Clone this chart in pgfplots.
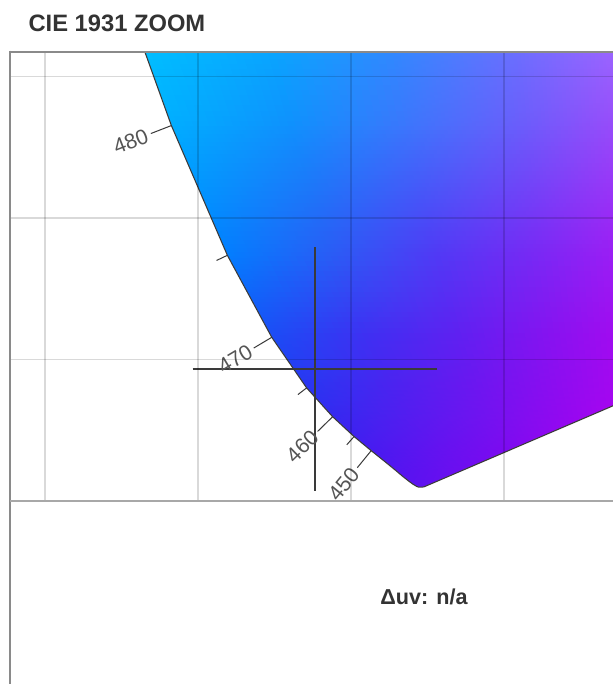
\documentclass[border=0pt]{standalone}
\usepackage{pgfplots}
\pgfplotsset{compat=1.18}
\usepgfplotslibrary{patchplots}
\usepackage{fontspec}
\setmainfont{Liberation Sans}

\definecolor{titlegray}{HTML}{333333}
\definecolor{labelgray}{HTML}{555555}
\definecolor{linegray}{HTML}{3A3A3A}
\definecolor{framegray}{HTML}{8A8A8A}
\definecolor{sepgray}{HTML}{A8A8A8}

\begin{document}
\begin{tikzpicture}
\useasboundingbox (0,0) rectangle (459pt,513pt);

\begin{axis}[
    at={(7.125pt,137.475pt)}, anchor=south west,
    scale only axis, width=457.875pt, height=336.75pt,
    xmin=0.0384, xmax=0.23791, ymin=0, ymax=0.15883,
    xtick={0.05,0.10,0.15,0.20}, ytick={0.05,0.10,0.15},
    xticklabels={}, yticklabels={}, major tick length=0pt,
    grid=major, grid style={black, opacity=0.15, line width=0.8pt},
    axis line style={draw=none},
    axis on top, clip mode=individual,
  ]

  % colour field, vertices on rows of constant y, left column on the locus
  \addplot[patch, patch type=bilinear, shader=interp,
    mesh/color input=explicit, point meta=explicit symbolic,
    table/row sep=\\,
    patch table={
      0 1 6 5\\ 1 2 7 6\\ 2 3 8 7\\ 3 4 9 8\\
      5 6 11 10\\ 6 7 12 11\\ 7 8 13 12\\ 8 9 14 13\\
      10 11 16 15\\ 11 12 17 16\\ 12 13 18 17\\ 13 14 19 18\\
      15 16 21 20\\ 16 17 22 21\\ 17 18 23 22\\ 18 19 24 23\\
      20 21 26 25\\ 21 22 27 26\\ 22 23 28 27\\ 23 24 29 28\\
      25 26 31 30\\ 26 27 32 31\\ 27 28 33 32\\ 28 29 34 33\\
      30 31 36 35\\ 31 32 37 36\\ 32 33 38 37\\ 33 34 39 38\\
      35 36 41 40\\ 36 37 42 41\\ 37 38 43 42\\ 38 39 44 43\\
    }] table[meta=c] {
    x y c\\
    0.157 0.003 rgb=0.306,0.086,0.941\\
    0.18125 0.003 rgb=0.408,0.055,0.941\\
    0.2025 0.003 rgb=0.502,0.031,0.941\\
    0.22375 0.003 rgb=0.612,0.016,0.941\\
    0.245 0.003 rgb=0.714,0,0.941\\
    0.1614 0.0109 rgb=0.314,0.086,0.941\\
    0.18455 0.0109 rgb=0.424,0.055,0.941\\
    0.2047 0.0109 rgb=0.510,0.031,0.941\\
    0.22485 0.0109 rgb=0.620,0.016,0.941\\
    0.245 0.0109 rgb=0.714,0,0.941\\
    0.1536 0.0177 rgb=0.267,0.110,0.941\\
    0.1787 0.0177 rgb=0.392,0.071,0.941\\
    0.2008 0.0177 rgb=0.490,0.039,0.941\\
    0.2229 0.0177 rgb=0.608,0.020,0.941\\
    0.245 0.0177 rgb=0.706,0,0.941\\
    0.1410 0.0297 rgb=0.196,0.165,0.941\\
    0.16925 0.0297 rgb=0.333,0.110,0.941\\
    0.1945 0.0297 rgb=0.451,0.071,0.941\\
    0.21975 0.0297 rgb=0.580,0.031,0.941\\
    0.245 0.0297 rgb=0.698,0.012,0.941\\
    0.1325 0.0399 rgb=0.149,0.216,0.949\\
    0.1629 0.0399 rgb=0.294,0.137,0.941\\
    0.1902 0.0399 rgb=0.424,0.086,0.941\\
    0.2176 0.0399 rgb=0.557,0.047,0.941\\
    0.245 0.0399 rgb=0.686,0.020,0.941\\
    0.1211 0.0578 rgb=0.098,0.306,0.961\\
    0.1543 0.0578 rgb=0.243,0.188,0.949\\
    0.1846 0.0578 rgb=0.373,0.125,0.945\\
    0.2148 0.0578 rgb=0.529,0.071,0.941\\
    0.245 0.0578 rgb=0.675,0.031,0.941\\
    0.1066 0.0868 rgb=0,0.502,1\\
    0.1435 0.0868 rgb=0.165,0.361,0.961\\
    0.1773 0.0868 rgb=0.314,0.227,0.961\\
    0.2112 0.0868 rgb=0.478,0.157,0.957\\
    0.245 0.0868 rgb=0.659,0.098,0.957\\
    0.0883 0.1327 rgb=0,0.686,1\\
    0.1297 0.1327 rgb=0.059,0.569,0.992\\
    0.1682 0.1327 rgb=0.235,0.463,0.988\\
    0.2066 0.1327 rgb=0.424,0.361,0.984\\
    0.245 0.1327 rgb=0.647,0.275,0.980\\
    0.078 0.162 rgb=0,0.760,1\\
    0.122 0.162 rgb=0.031,0.659,1\\
    0.163 0.162 rgb=0.188,0.541,1\\
    0.204 0.162 rgb=0.424,0.439,1\\
    0.245 0.162 rgb=0.667,0.392,1\\
  };

  % white outside the spectral locus and the line of purples
  \addplot[fill=white, draw=none] coordinates {
    (0.02,0.2950) (0.0454,0.2950) (0.0687,0.2007) (0.0913,0.1327)
    (0.1096,0.0868) (0.1241,0.0578) (0.1355,0.0399) (0.1440,0.0297)
    (0.1510,0.0227) (0.1566,0.0177) (0.1611,0.0138) (0.1644,0.0109)
    (0.1669,0.0086) (0.1689,0.0069) (0.1703,0.0058) (0.1714,0.0051)
    (0.1721,0.0048) (0.1726,0.0048) (0.1733,0.0048) (0.1738,0.0049)
    (0.1741,0.0050) (0.7347,0.2653) (0.7347,-0.02) (0.02,-0.02)
  };

  % spectral locus
  \addplot[draw=linegray, line width=0.8pt, line join=round] coordinates {
    (0.0687,0.2007) (0.0913,0.1327)
    (0.1096,0.0868) (0.1241,0.0578) (0.1355,0.0399) (0.1440,0.0297)
    (0.1510,0.0227) (0.1566,0.0177) (0.1611,0.0138) (0.1644,0.0109)
    (0.1669,0.0086) (0.1689,0.0069) (0.1703,0.0058) (0.1714,0.0051)
    (0.1721,0.0048) (0.1726,0.0048) (0.1733,0.0048) (0.1738,0.0049)
    (0.1741,0.0050) (0.7347,0.2653)
  };

  % wavelength ticks
  \addplot[draw=linegray, line width=0.75pt, unbounded coords=jump] coordinates {
    (0.0913,0.1327) (0.08460,0.12988) (nan,nan)
    (0.1096,0.0868) (0.10606,0.08498) (nan,nan)
    (0.1241,0.0578) (0.11821,0.05399) (nan,nan)
    (0.1355,0.0399) (0.13265,0.03753) (nan,nan)
    (0.1440,0.0297) (0.13909,0.02451) (nan,nan)
    (0.1510,0.0227) (0.14863,0.01978) (nan,nan)
    (0.1566,0.0177) (0.15206,0.01167)
  };

  % crosshair
  \addplot[draw=linegray, line width=0.95pt] coordinates {(0.13824,0.08974) (0.13824,0.00329)};
  \addplot[draw=linegray, line width=0.95pt] coordinates {(0.09827,0.04659) (0.17820,0.04659)};

  \tikzset{wl/.style={anchor=east, inner sep=2.6pt, text=labelgray,
      font=\fontsize{16pt}{18pt}\selectfont}}
  \node[wl, rotate=21.2] at (axis cs:0.08460,0.12988) {480};
  \node[wl, rotate=30.9] at (axis cs:0.11821,0.05399) {470};
  \node[wl, rotate=44.3] at (axis cs:0.13909,0.02451) {460};
  \node[wl, rotate=50.9] at (axis cs:0.15206,0.01167) {450};
\end{axis}

% panel frames
\draw[framegray, line width=1.5pt] (7.125pt,474.2pt) -- (470pt,474.2pt);
\draw[framegray, line width=1.5pt] (7.125pt,475pt) -- (7.125pt,-10pt);
\draw[sepgray, line width=1.5pt] (7.125pt,137.475pt) -- (470pt,137.475pt);

\node[anchor=base west, inner sep=0pt, text=titlegray,
  font=\fontsize{17.8pt}{20pt}\selectfont\bfseries] at (21.2pt,489.2pt) {CIE 1931 ZOOM};
\node[anchor=base, inner sep=0pt, text=titlegray,
  font=\fontsize{16.2pt}{18pt}\selectfont\bfseries] at (318pt,59.25pt) {Δuv: n/a};
\end{tikzpicture}
\end{document}
